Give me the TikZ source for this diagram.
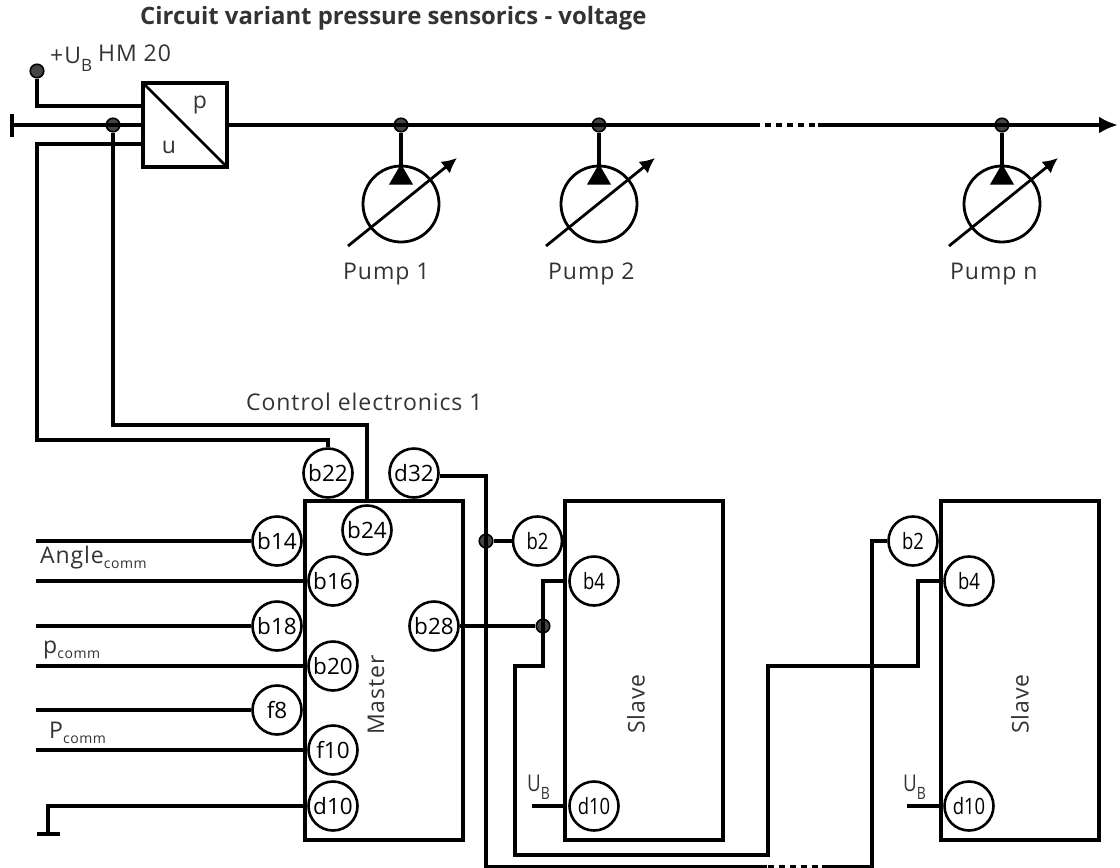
\documentclass[tikz,border=0pt]{standalone}
\usepackage{fontspec}
\setmainfont{Open Sans}
\usetikzlibrary{arrows.meta}
\definecolor{txt}{HTML}{333333}
\definecolor{dotc}{HTML}{444444}
\newfontfamily\spaced[LetterSpace=4]{Open Sans}
\tikzset{
 x=1pt,y=-1pt,
 wire/.style={line width=3.7pt,line join=miter,black},
 thinw/.style={line width=2.6pt,black},
 pin/.style={circle,draw=black,line width=2.6pt,minimum size=49pt,inner sep=0pt,font=\fontsize{22.5}{23}\selectfont,text=black},
 spin/.style={pin},
 dot/.style={circle,draw=black,line width=1.6pt,fill=dotc,minimum size=13.5pt,inner sep=0pt},
 lab/.style={font=\spaced\fontsize{23}{27}\selectfont,text=txt,inner sep=0pt},
 pumpc/.style={circle,draw=black,line width=2.8pt,minimum size=76pt,inner sep=0pt},
 box/.style={draw=black,line width=3.4pt,inner sep=0pt,outer sep=0pt,anchor=north west},
}
\newcommand{\subt}[1]{\raisebox{-5pt}{\fontsize{14}{14}\selectfont #1}}
\newcommand{\subs}[1]{\raisebox{-8pt}{\fontsize{17}{17}\selectfont #1}}
\newcommand{\squz}[1]{\scalebox{.82}[1]{#1}}
\begin{document}
\begin{tikzpicture}
\useasboundingbox (0,0) rectangle (1120,868);
\clip (0,0) rectangle (1120,868);
% title and labels
\node[lab,anchor=west,font=\bfseries\fontsize{23.9}{27}\selectfont] (title) at (140,18) {Circuit variant pressure sensorics - voltage};
\node[lab,anchor=base west] (ub) at (50,63) {+U\subs{B}};
\node[lab,anchor=base west] (hm) at (98,61) {HM 20};
\node[lab] (lp) at (200,105) {p};
\node[lab] (lu) at (169,147) {u};
\node[lab,anchor=west] (ce) at (246,402) {Control electronics 1};
\node[lab,anchor=west] (ac) at (40,558) {Angle\subt{comm}};
\node[lab,anchor=west] (pc) at (43,650) {p\subt{comm}};
\node[lab,anchor=west] (Pc) at (49,733) {P\subt{comm}};
% boxes
\node[box,minimum width=84pt,minimum height=84pt] (hmbox) at (143,83) {};
\node[box,minimum width=158pt,minimum height=339pt] (master) at (305,501) {};
\node[box,minimum width=158pt,minimum height=339pt] (slave1) at (565,501) {};
\node[box,minimum width=158pt,minimum height=339pt] (slave2) at (941,501) {};
\draw[thinw] (hmbox.north west) -- (hmbox.south east);
\node[lab,rotate=90] (lm) at (376,695) {Master};
\node[lab,rotate=90] (ls1) at (636,704) {Slave};
\node[lab,rotate=90] (ls2) at (1020,704) {Slave};
% pins
\node[pin] (b22) at (328,473) {b22};
\node[pin] (d32) at (414,473) {d32};
\node[pin] (b24) at (367,530) {b24};
\node[pin] (b14) at (277,541) {b14};
\node[pin] (b16) at (333,581) {b16};
\node[pin] (b18) at (277,626) {b18};
\node[pin] (b20) at (333,666) {b20};
\node[pin] (f8) at (277,710) {f8};
\node[pin] (f10) at (333,750) {f10};
\node[pin] (d10) at (333,806) {d10};
\node[pin] (b28) at (434,626) {b28};
\node[spin] (s1b2) at (537.5,541) {\squz{b2}};
\node[spin] (s1b4) at (594,581) {\squz{b4}};
\node[spin] (s1d10) at (594,806) {\squz{d10}};
\node[spin] (s2b2) at (913,541) {\squz{b2}};
\node[spin] (s2b4) at (969,581) {\squz{b4}};
\node[spin] (s2d10) at (969,806) {\squz{d10}};
\node[lab,anchor=base west] (ub1) at (527,791) {\squz{U\subs{B}}};
\node[lab,anchor=base west] (ub2) at (903,791) {\squz{U\subs{B}}};
% top junction dots
\node[dot] (vcc) at (37,71) {};
\node[dot] (j0) at (113,125) {};
\node[dot] (j1) at (401,125) {};
\node[dot] (j2) at (599,125) {};
\node[dot] (j3) at (1002,125) {};
\node[dot] (jd) at (486,541) {};
\node[dot] (jb) at (543,626) {};
% pumps
\foreach \n/\X/\L/\T in {1/401/343/Pump 1,2/599/548/Pump 2,3/1002/950/Pump n}{
 \node[pumpc] (p\n) at (\X,204) {};
 \draw[wire] (j\n) -- (\X,168);
 \fill[black] (\X,164) -- (\X+12,184.5) -- (\X-12,184.5) -- cycle;
 \draw[line width=2.8pt,-{Latex[length=15pt,width=15pt]}] (\X-53,246) -- (\X+56,158);
 \node[lab,anchor=west] (pl\n) at (\L,274) {\T};
}
% main line
\coordinate (tick) at (12,125);
\coordinate (dashA) at (760,125);
\coordinate (dashB) at (818,125);
\coordinate (endm) at (1118,125);
\draw[wire] (12,114) -- (12,137);
\draw[wire] (tick) -- (143,125);
\draw[wire] (227,125) -- (dashA);
\draw[line width=3.7pt,dash pattern=on 6pt off 5pt] (dashA) ++(5,0) -- (dashB);
\draw[wire,-{Latex[length=19pt,width=17pt]}] (dashB) -- (endm);
% sensor wires
\draw[wire] (vcc) -- (37,106) -- (143,106);
\draw[wire] (143,144) -- (37,144) -- (37,440) -- (328,440) -- (b22.north);
\draw[wire] (j0) -- (113,425) -- (367,425) -- (367,501);
% master inputs
\draw[wire] (36,541) -- (b14.west);
\draw[wire] (36,581) -- (305,581);
\draw[wire] (36,626) -- (b18.west);
\draw[wire] (36,666) -- (305,666);
\draw[wire] (36,710) -- (f8.west);
\draw[wire] (36,750) -- (305,750);
\draw[wire] (305,806) -- (48,806) -- (48,834);
\draw[wire] (37,834) -- (60,834);
% outputs
\draw[wire] (d32.east) ++(0,3) -- (486,476) -- (486,867) -- (767,867);
\draw[line width=3.7pt,dash pattern=on 6pt off 5pt] (768,867) -- (822,867);
\draw[wire] (822,867) -- (872,867) -- (872,541) -- (s2b2.west);
\draw[wire] (jd) -- (s1b2.west);
\draw[wire] (b28.east) -- (jb);
\draw[wire] (565,581) -- (543,581) -- (543,666) -- (515,666) -- (515,855) -- (768,855) -- (768,666) -- (918,666) -- (918,581) -- (941,581);
\draw[wire] (532,806) -- (565,806);
\draw[wire] (907,806) -- (941,806);
\end{tikzpicture}
\end{document}
